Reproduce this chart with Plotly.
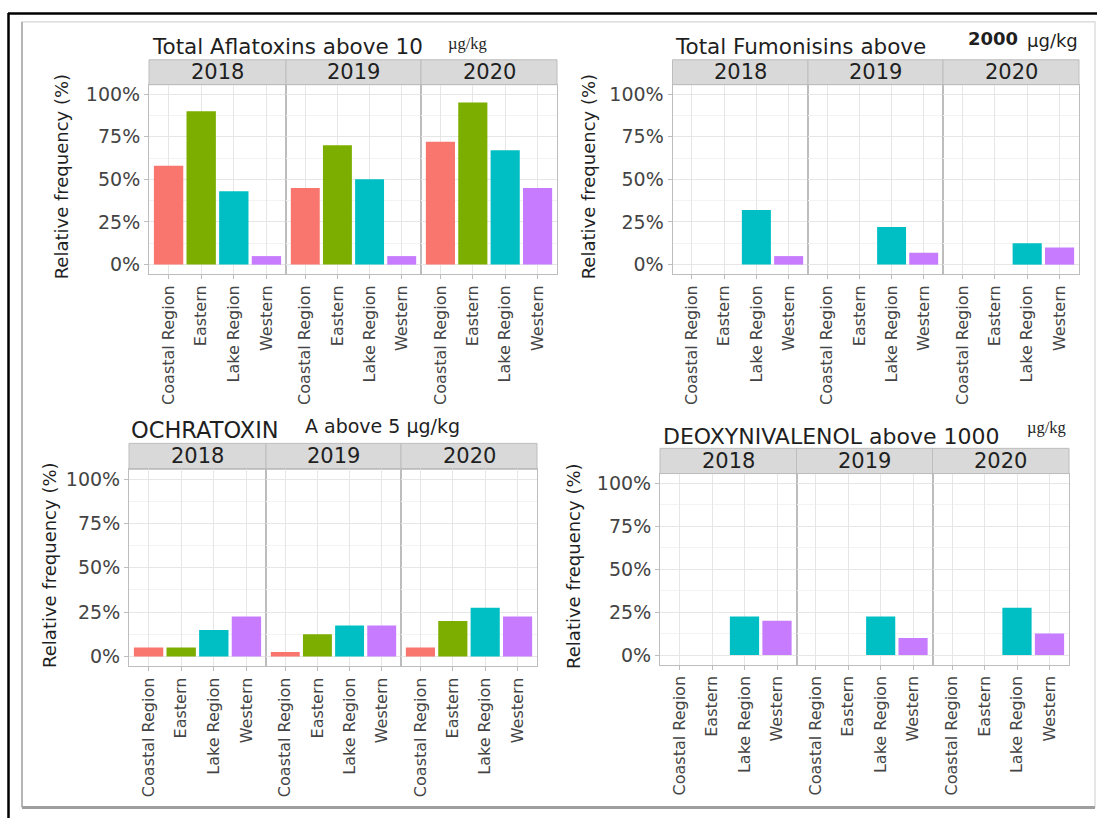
import plotly.graph_objects as go

W, H = 1097, 819

# ---- data -----------------------------------------------------------------
regions = ["Coastal Region", "Eastern", "Lake Region", "Western"]
years = ["2018", "2019", "2020"]
region_colors = ["#F8766D", "#7CAE00", "#00BFC4", "#C77CFF"]
y_ticks = [0, 0.25, 0.5, 0.75, 1.0]
y_tick_labels = ["0%", "25%", "50%", "75%", "100%"]

aflatoxin_2018 = [0.58, 0.90, 0.43, 0.05]
aflatoxin_2019 = [0.45, 0.70, 0.50, 0.05]
aflatoxin_2020 = [0.72, 0.95, 0.67, 0.45]

fumonisin_2018 = [0.0, 0.0, 0.32, 0.05]
fumonisin_2019 = [0.0, 0.0, 0.22, 0.07]
fumonisin_2020 = [0.0, 0.0, 0.125, 0.10]

ochratoxin_2018 = [0.05, 0.05, 0.15, 0.225]
ochratoxin_2019 = [0.025, 0.125, 0.175, 0.175]
ochratoxin_2020 = [0.05, 0.20, 0.275, 0.225]

don_2018 = [0.0, 0.0, 0.225, 0.20]
don_2019 = [0.0, 0.0, 0.225, 0.10]
don_2020 = [0.0, 0.0, 0.275, 0.125]

# ---- styling --------------------------------------------------------------
SANS = "DejaVu Sans, Liberation Sans, Arial, sans-serif"
SERIF = "Liberation Serif, DejaVu Serif, serif"
TEXT = "#1f1f1f"
TICKTXT = "#444444"
BORDER = "#bdbdbd"
GRID = "#e6e6e6"
MINOR = "#f3f3f3"
STRIP = "#d9d9d9"


def fx(v):
    return v / W


def fy(v):
    return 1 - v / H


# panel geometry in pixels: facet edges, plot top/bottom, strip top
panels = [
    dict(rows=[aflatoxin_2018, aflatoxin_2019, aflatoxin_2020],
         edges=[149, 286, 421, 557], top=83, bottom=273, strip=58,
         ytitle=(61, 176)),
    dict(rows=[fumonisin_2018, fumonisin_2019, fumonisin_2020],
         edges=[672.5, 808, 943, 1079], top=83, bottom=273, strip=58,
         ytitle=(588, 176)),
    dict(rows=[ochratoxin_2018, ochratoxin_2019, ochratoxin_2020],
         edges=[129, 266, 401, 537], top=469, bottom=666.7, strip=443,
         ytitle=(50, 566)),
    dict(rows=[don_2018, don_2019, don_2020],
         edges=[660, 796.5, 932.5, 1069], top=473.3, bottom=665, strip=448,
         ytitle=(574, 567)),
]

fig = go.Figure()
layout_axes = {}
shapes = []
annotations = []

for p, pan in enumerate(panels):
    e = pan["edges"]
    for f in range(3):
        k = p * 3 + f + 1
        fig.add_trace(go.Bar(
            x=regions, y=pan["rows"][f],
            xaxis=f"x{k}", yaxis=f"y{k}",
            width=0.9,
            marker=dict(color=region_colors, line=dict(width=0)),
            showlegend=False, hoverinfo="x+y",
        ))
        layout_axes[f"xaxis{k}"] = dict(
            domain=[fx(e[f]), fx(e[f + 1])], anchor=f"y{k}",
            type="category", categoryorder="array", categoryarray=regions,
            range=[-0.6, 3.6], tickangle=-90,
            tickfont=dict(family=SANS, size=16, color=TICKTXT),
            showgrid=True, gridcolor=GRID, gridwidth=1,
            showline=True, linecolor=BORDER, linewidth=1, mirror=True,
            ticks="outside", ticklen=4, tickcolor=BORDER, zeroline=False,
        )
        layout_axes[f"yaxis{k}"] = dict(
            domain=[fy(pan["bottom"]), fy(pan["top"])], anchor=f"x{k}",
            range=[-0.055, 1.055],
            tickmode="array", tickvals=y_ticks, ticktext=y_tick_labels,
            showticklabels=(f == 0),
            ticks="outside" if f == 0 else "", ticklen=4, tickcolor=BORDER,
            tickfont=dict(family=SANS, size=19, color=TICKTXT),
            showgrid=True, gridcolor=GRID, gridwidth=1,
            minor=dict(dtick=0.125, tick0=0, showgrid=True,
                       gridcolor=MINOR, gridwidth=1),
            showline=True, linecolor=BORDER, linewidth=1, mirror=True,
            zeroline=False,
        )
        # facet strip
        shapes.append(dict(
            type="rect", xref="paper", yref="paper",
            x0=fx(e[f]), x1=fx(e[f + 1]), y0=fy(pan["top"]), y1=fy(pan["strip"]),
            fillcolor=STRIP, line=dict(color=BORDER, width=1), layer="below",
        ))
        annotations.append(dict(
            text=years[f], xref="paper", yref="paper",
            x=fx((e[f] + e[f + 1]) / 2), y=fy((pan["top"] + pan["strip"]) / 2),
            showarrow=False, xanchor="center", yanchor="middle",
            font=dict(family=SANS, size=21, color=TEXT),
        ))
    tx, ty = pan["ytitle"]
    annotations.append(dict(
        text="Relative frequency (%)", xref="paper", yref="paper",
        x=fx(tx), y=fy(ty), textangle=-90, showarrow=False,
        xanchor="center", yanchor="middle",
        font=dict(family=SANS, size=18, color=TEXT),
    ))

# panel titles
titles = [
    ("Total Aflatoxins above 10", 150, 45, SANS, 21.5),
    ("µg/kg", 446, 42, SERIF, 16.5),
    ("Total Fumonisins above", 672.5, 45, SANS, 21.5),
    ("<b>2000</b>", 966, 37, SANS, 18),
    ("µg/kg", 1025, 39, SANS, 18),
    ("OCHRATOXIN", 129, 430, SANS, 22.5),
    ("A above 5 µg/kg", 303, 426, SANS, 19),
    ("DEOXYNIVALENOL above 1000", 661, 436, SANS, 22),
    ("µg/kg", 1025, 427, SERIF, 16.5),
]
for txt, x, y, fam, size in titles:
    annotations.append(dict(
        text=txt, xref="paper", yref="paper", x=fx(x), y=fy(y),
        showarrow=False, xanchor="left", yanchor="middle",
        font=dict(family=fam, size=size, color=TEXT),
    ))

# outer frame
shapes += [
    dict(type="line", xref="paper", yref="paper", x0=fx(8), x1=1,
         y0=fy(11.5), y1=fy(11.5), line=dict(color="#000000", width=2.5)),
    dict(type="line", xref="paper", yref="paper", x0=fx(8.5), x1=fx(8.5),
         y0=fy(11), y1=0, line=dict(color="#000000", width=2.5)),
    dict(type="rect", xref="paper", yref="paper", x0=fx(22), x1=fx(1095),
         y0=fy(808), y1=fy(20), line=dict(color="#d6d6d6", width=1.2)),
    dict(type="line", xref="paper", yref="paper", x0=fx(22), x1=fx(22),
         y0=fy(808), y1=fy(20), line=dict(color="#b5b5b5", width=2)),
    dict(type="line", xref="paper", yref="paper", x0=fx(22), x1=fx(1095),
         y0=fy(808.5), y1=fy(808.5), line=dict(color="#9e9e9e", width=3)),
]

fig.update_layout(
    width=W, height=H,
    margin=dict(l=0, r=0, t=0, b=0),
    paper_bgcolor="white", plot_bgcolor="white",
    showlegend=False, bargap=0.1,
    shapes=shapes, annotations=annotations,
    **layout_axes,
)

fig.write_html("out.html")
